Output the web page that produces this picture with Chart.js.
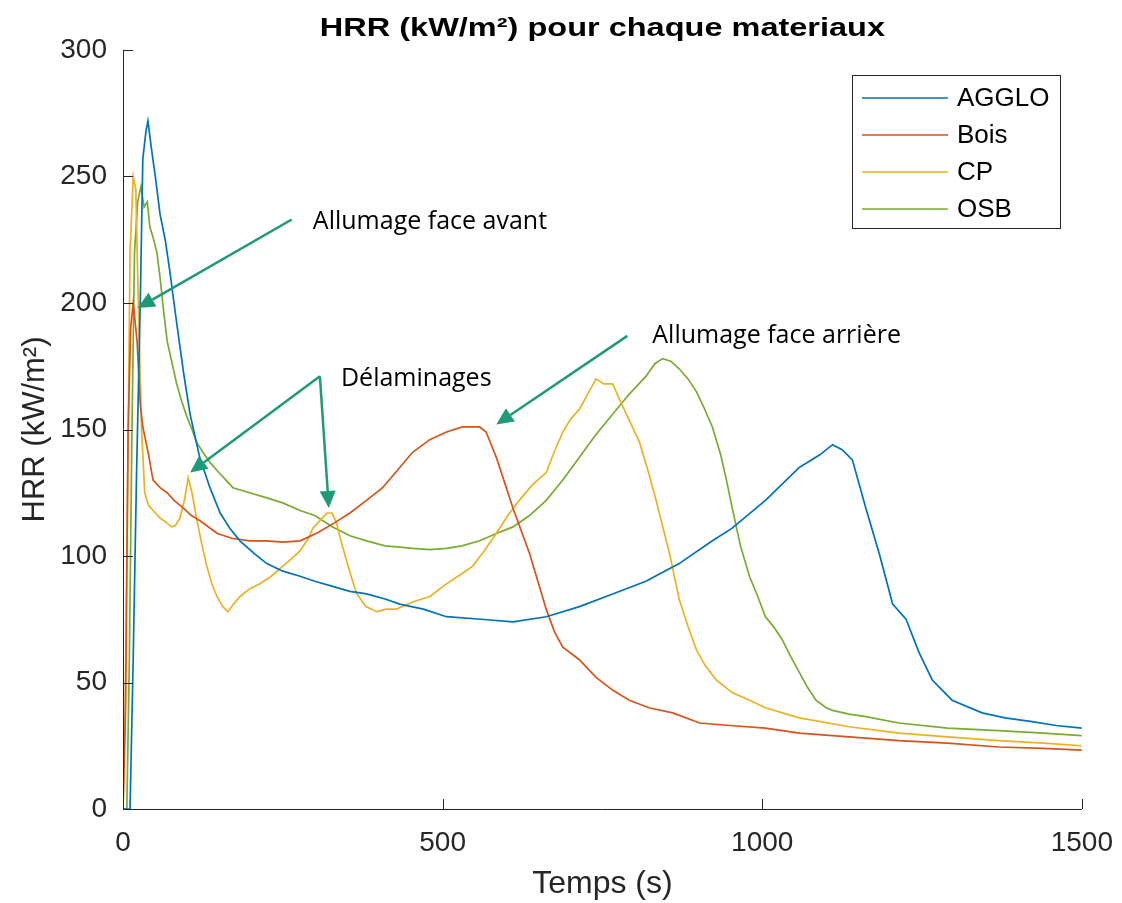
<!DOCTYPE html>
<html>
<head>
<meta charset="utf-8">
<script src="https://cdn.jsdelivr.net/npm/chart.js@4"></script>
<style>
  html, body { margin: 0; padding: 0; background: #fff; }
</style>
</head>
<body>
<canvas id="hrr" width="1122" height="903"></canvas>
<script>
// HRR par matériau (t en s, HRR en kW/m²)
const seriesNames = ["AGGLO", "Bois", "CP", "OSB"];
const seriesColors = ["#0072BD", "#D95319", "#EDB120", "#77AC30"];

const aggloT = [0,11,16,21,27,31,36,39,45,50,58,66,73,84,95,105,120,136,152,167,183,205,225,250,277,300,328,355,381,410,433,470,506,560,610,662,714,766,818,870,922,953,1005,1058,1090,1110,1125,1141,1162,1183,1204,1225,1245,1266,1297,1344,1380,1422,1460,1500];
const aggloV = [0,0,60,130,200,257,268,272,260,251,235,225,213,192,172,156,139,127,117,111,106,101,97,94,92,90,88,86,85,83,81,79,76,75,74,76,80,85,90,97,106,111,122,135,140,144,142,138,119,101,81,75,62,51,43,38,36,34.5,33,32];

const boisT = [0,4,8,12,16,22,27,31,40,47,58,69,80,94,107,120,147,170,198,225,250,277,303,330,355,381,406,433,453,480,506,531,558,568,584,597,610,623,636,649,662,675,688,714,740,766,792,823,860,902,950,1005,1058,1136,1214,1290,1370,1440,1500];
const boisV = [0,40,150,190,200,185,160,151,140,130,127,125,122,119,116,114,109,107,106,106,105.5,106,109,113,117,122,127,135,141,146,149,151,151,149,139,129,119,110,101,90,79,70,64,59,52,47,43,40,38,34,33,32,30,28.5,27,26,24.5,24,23.3];

const cpT = [0,3,7,11,16,20,24,29,34,40,47,58,69,76,82,89,96,102,108,115,123,131,139,147,156,164,173,183,198,214,232,250,264,277,290,297,308,319,327,334,342,350,358,366,380,397,412,428,455,480,506,530,547,565,584,602,620,640,662,676,688,700,714,727,740,752,766,782,795,808,821,834,845,855,870,884,897,910,928,953,980,1005,1058,1136,1214,1290,1370,1440,1500];
const cpV = [0,30,120,220,250,245,200,150,125,120,118,115,113,111.5,112,115,122,131,125,115,105,96,89,84,80,78,81,84,87,89,92,96,99,102,107,111,114,117,117,113,105,98,91,85,80,78,79,79,82,84,89,93,96,102,109,116,122,128,133,142,149,154,158,164,170,168,168,159,152,145,134,122,111,101,83,72,63,57,51,46,43,40,36,32.5,30,28.5,27,26,25];

const osbT = [0,6,10,14,18,23,28,33,38,42,47,53,58,63,69,77,84,92,100,108,115,125,136,150,172,198,225,250,277,300,328,355,381,410,433,453,480,506,530,558,585,610,636,662,688,714,740,766,792,818,832,844,857,870,884,897,910,922,935,944,953,966,980,993,1005,1018,1031,1045,1058,1071,1084,1100,1110,1136,1162,1214,1290,1370,1440,1500];
const osbV = [0,0,60,150,220,240,246,238,240,230,226,220,210,198,185,176,168,161,155,150,145,141,137,133,127,125,123,121,118,116,111.5,108,106,104,103.5,103,102.5,103,104,106,109,111.5,116,122,130,139,148,156,164,171,176,178,177,174,170,165,158,151,140,130,119,104,92,84,76,72,67,60,54,48,43,40,39,37.5,36.5,34,32,31,30,29];

const xTicks = [0, 500, 1000, 1500];
const yTicks = [0, 50, 100, 150, 200, 250, 300];

// annotations, en coordonnées de données
const notes = [
  { text: "Allumage face avant", t: 297, v: 232 },
  { text: "Délaminages", t: 341, v: 170 },
  { text: "Allumage face arrière", t: 828, v: 187 }
];
const arrows = [
  { from: [264, 233], to: [23, 198] },
  { from: [308, 171], to: [105, 133] },
  { from: [308, 171], to: [322, 119] },
  { from: [789, 187], to: [584, 152] }
];

const pairs = (ts, vs) => ts.map((t, i) => ({ x: t, y: vs[i] }));
const allT = [aggloT, boisT, cpT, osbT];
const allV = [aggloV, boisV, cpV, osbV];

const AXIS = "#262626";
const SANS = "'Liberation Sans', Arial, sans-serif";

const matlabAxes = {
  id: "matlabAxes",
  afterDraw(chart) {
    const { ctx, chartArea: a, scales: { x, y } } = chart;
    ctx.save();
    ctx.strokeStyle = AXIS;
    ctx.lineWidth = 1;
    ctx.beginPath();
    ctx.moveTo(a.left + 0.5, a.top);
    ctx.lineTo(a.left + 0.5, a.bottom + 0.5);
    ctx.lineTo(a.right, a.bottom + 0.5);
    // ticks vers l'intérieur
    yTicks.forEach(v => {
      const py = Math.round(y.getPixelForValue(v)) + 0.5;
      ctx.moveTo(a.left, py); ctx.lineTo(a.left + 10, py);
    });
    xTicks.forEach(t => {
      const px = Math.round(x.getPixelForValue(t)) + 0.5;
      ctx.moveTo(px, a.bottom); ctx.lineTo(px, a.bottom - 10);
    });
    ctx.stroke();

    // titre (police un peu élargie comme sur la figure)
    ctx.save();
    ctx.fillStyle = "#000";
    ctx.font = "bold 26px " + SANS;
    ctx.textAlign = "center";
    ctx.textBaseline = "middle";
    ctx.translate((a.left + a.right) / 2, 29);
    ctx.scale(1.25, 1);
    ctx.fillText("HRR (kW/m²) pour chaque materiaux", 0, 0);
    ctx.restore();

    // flèches
    const green = "#1E9A78";
    ctx.strokeStyle = green;
    ctx.fillStyle = green;
    ctx.lineWidth = 2.5;
    arrows.forEach(ar => {
      const x1 = x.getPixelForValue(ar.from[0]), y1 = y.getPixelForValue(ar.from[1]);
      const x2 = x.getPixelForValue(ar.to[0]), y2 = y.getPixelForValue(ar.to[1]);
      const ang = Math.atan2(y2 - y1, x2 - x1);
      const hl = 17, hw = 8;
      const bx = x2 - hl * Math.cos(ang), by = y2 - hl * Math.sin(ang);
      ctx.beginPath();
      ctx.moveTo(x1, y1); ctx.lineTo(bx, by);
      ctx.stroke();
      ctx.beginPath();
      ctx.moveTo(x2, y2);
      ctx.lineTo(bx + hw * Math.sin(ang), by - hw * Math.cos(ang));
      ctx.lineTo(bx - hw * Math.sin(ang), by + hw * Math.cos(ang));
      ctx.closePath();
      ctx.fill();
    });

    // textes d'annotation
    ctx.fillStyle = "#000";
    ctx.font = "25px 'Open Sans', 'Noto Sans', sans-serif";
    ctx.textAlign = "left";
    ctx.textBaseline = "middle";
    notes.forEach(n => ctx.fillText(n.text, x.getPixelForValue(n.t), y.getPixelForValue(n.v)));

    // légende
    const lx = 852, ly = 75, lw = 208, lh = 153;
    ctx.fillStyle = "#fff";
    ctx.fillRect(lx, ly, lw, lh);
    ctx.strokeStyle = AXIS;
    ctx.lineWidth = 1;
    ctx.strokeRect(lx + 0.5, ly + 0.5, lw, lh);
    ctx.font = "26px " + SANS;
    seriesNames.forEach((nm, i) => {
      const yy = ly + 23 + i * 37;
      ctx.strokeStyle = seriesColors[i];
      ctx.lineWidth = 1.5;
      ctx.beginPath(); ctx.moveTo(862, yy); ctx.lineTo(948, yy); ctx.stroke();
      ctx.fillStyle = "#000";
      ctx.fillText(nm, 957, yy + 1);
    });
    ctx.restore();
  }
};

new Chart(document.getElementById("hrr"), {
  type: "line",
  data: {
    datasets: seriesNames.map((nm, i) => ({
      label: nm,
      data: pairs(allT[i], allV[i]),
      borderColor: seriesColors[i],
      borderWidth: 1.7,
      pointRadius: 0,
      tension: 0,
      fill: false
    }))
  },
  options: {
    responsive: false,
    animation: false,
    devicePixelRatio: 1,
    layout: { padding: { top: 50, right: 31, left: 0, bottom: 0 } },
    plugins: { legend: { display: false }, title: { display: false }, tooltip: { enabled: false } },
    scales: {
      x: {
        type: "linear", min: 0, max: 1500,
        afterFit: s => { s.height = 94; },
        afterBuildTicks: s => { s.ticks = xTicks.map(v => ({ value: v })); },
        grid: { display: false },
        border: { display: false },
        ticks: { color: AXIS, padding: 9, maxRotation: 0, callback: v => String(v), font: { size: 28, family: SANS } },
        title: { display: true, text: "Temps (s)", color: AXIS, padding: { top: 0, bottom: 0 }, font: { size: 32, family: SANS } }
      },
      y: {
        min: 0, max: 300,
        afterFit: s => { s.width = 123; },
        afterBuildTicks: s => { s.ticks = yTicks.map(v => ({ value: v })); },
        grid: { display: false },
        border: { display: false },
        ticks: { color: AXIS, padding: 8, callback: v => String(v), font: { size: 28, family: SANS } },
        title: { display: true, text: "HRR (kW/m²)", color: AXIS, padding: { top: 17, bottom: 0 }, font: { size: 31, family: SANS } }
      }
    }
  },
  plugins: [matlabAxes]
});
</script>
</body>
</html>
